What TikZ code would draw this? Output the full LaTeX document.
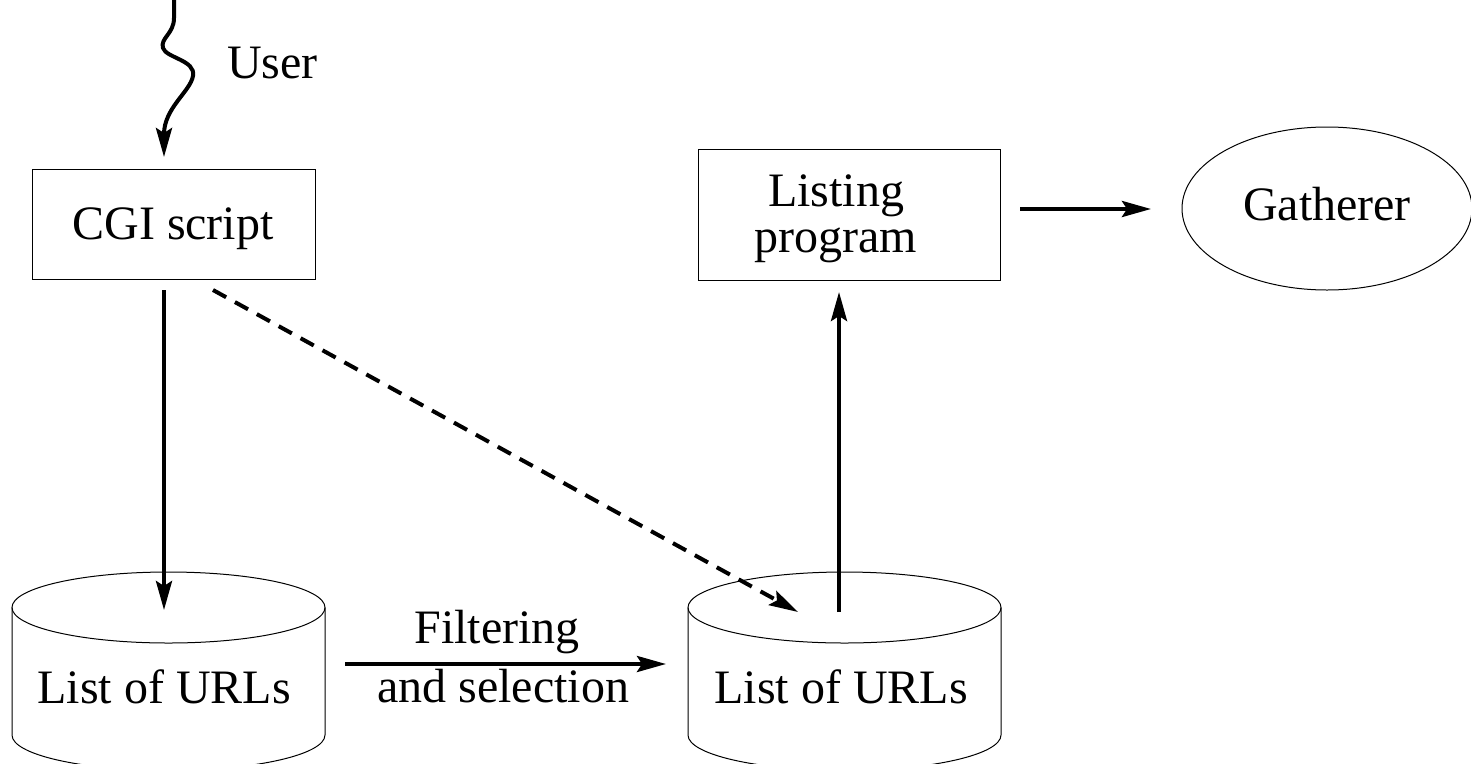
\documentclass[tikz,border=0pt]{standalone}
\usepackage{fontspec}
\setmainfont{Liberation Serif}
\usetikzlibrary{arrows.meta,shapes.geometric}
\begin{document}
\begin{tikzpicture}[x=1pt,y=-1pt,
  thinline/.style={line width=1pt},
  conn/.style={line width=4pt,-{Stealth[length=29pt,width=16pt,inset=5pt]}},
  lbl/.style={inner sep=0pt,anchor=base,font=\fontsize{48}{39}\selectfont},
  boxst/.style={draw,thinline,inner sep=0pt}]
\useasboundingbox (0,0) rectangle (1471,763);
\clip (0,0) rectangle (1471,763);
% boxes
\node[boxst,minimum width=283pt,minimum height=110pt] (cgi) at (173.5,224) {};
\node[lbl] (cgitxt) at (173,239) {CGI script};
\node[boxst,minimum width=302pt,minimum height=131pt] (lst) at (849,214.5) {};
\node[lbl,align=center] (lsttxt) at (836,252) {Listing\\[7pt]program};
\node[draw,thinline,ellipse,minimum width=290pt,minimum height=163pt,inner sep=0pt] (gat) at (1327,208.5) {};
\node[lbl] (gattxt) at (1327,220) {Gatherer};
% cylinders
\draw[thinline] (168.5,607.5) ellipse [x radius=156.5pt, y radius=35.5pt];
\draw[thinline] (12,607.5) -- (12,735) arc[start angle=180,end angle=360,x radius=156.5pt,y radius=35.5pt] -- (325,607.5);
\node[lbl] (c1) at (164,703) {List of URLs};
\draw[thinline] (844.5,607.5) ellipse [x radius=156.5pt, y radius=35.5pt];
\draw[thinline] (688,607.5) -- (688,735) arc[start angle=180,end angle=360,x radius=156.5pt,y radius=35.5pt] -- (1001,607.5);
\node[lbl] (c2) at (841,703) {List of URLs};
% labels
\node[lbl,anchor=base west] (user) at (227,78) {User};
\node[lbl] (filt) at (497,643) {Filtering};
\node[lbl] (sel) at (503,702) {and selection};
% coordinates
\coordinate (top) at (174,0);
\coordinate (cgiin) at (164,157);
\coordinate (cgiout) at (164,290);
\coordinate (c1in) at (164,610);
\coordinate (cgidash) at (213,290);
\coordinate (c2dash) at (798,612);
\coordinate (f1) at (345,664);
\coordinate (f2) at (666,664);
\coordinate (c2out) at (839,612);
\coordinate (lstin) at (839,292);
\coordinate (lstout) at (1020,209);
\coordinate (gatin) at (1151,209);
% connectors
\draw[conn] (top) -- (174,18) .. controls (174,34) and (160,38) .. (163,48)
  .. controls (166,58) and (196,60) .. (193,76)
  .. controls (190,92) and (164,108) .. (cgiin);
\draw[conn] (cgiout) -- (c1in);
\draw[conn,dash pattern=on 15pt off 10pt] (cgidash) -- (c2dash);
\draw[conn] (f1) -- (f2);
\draw[conn] (c2out) -- (lstin);
\draw[conn] (lstout) -- (gatin);
\end{tikzpicture}
\end{document}
